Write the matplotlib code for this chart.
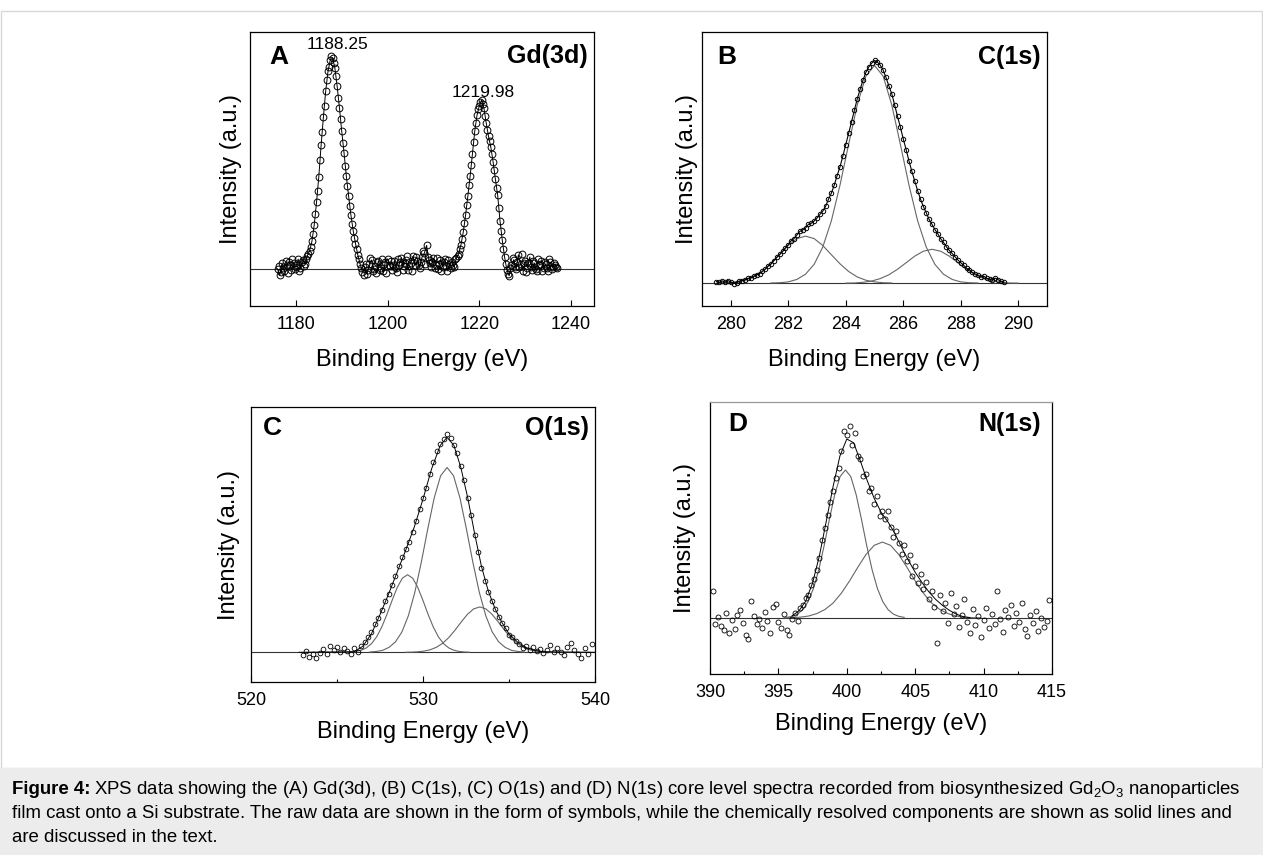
import numpy as np
import matplotlib
matplotlib.use("Agg")
import matplotlib.pyplot as plt
from matplotlib.patches import Rectangle
from matplotlib.ticker import MultipleLocator

plt.rcParams['font.family'] = ['Liberation Sans', 'DejaVu Sans']
plt.rcParams['mathtext.fontset'] = 'custom'
plt.rcParams['mathtext.rm'] = 'Liberation Sans'
plt.rcParams['mathtext.bf'] = 'Liberation Sans:bold'
plt.rcParams['mathtext.it'] = 'Liberation Sans:italic'

# intensities are in arbitrary units (0-100 = bottom-top of each panel)

# ---- panel A : Gd(3d), two overlapping scans ----
a_x = [1176.0, 1176.5, 1177.0, 1177.5, 1178.0, 1178.5, 1179.0, 1179.5, 1180.0, 1180.5,
       1181.0, 1181.5, 1182.0, 1182.5, 1183.0, 1183.5, 1184.0, 1184.5, 1185.0, 1185.5,
       1186.0, 1186.5, 1187.0, 1187.5, 1188.0, 1188.5, 1189.0, 1189.5, 1190.0, 1190.5,
       1191.0, 1191.5, 1192.0, 1192.5, 1193.0, 1193.5, 1194.0, 1194.5, 1195.0, 1195.5,
       1196.0, 1196.5, 1197.0, 1197.5, 1198.0, 1198.5, 1199.0, 1199.5, 1200.0, 1200.5,
       1201.0, 1201.5, 1202.0, 1202.5, 1203.0, 1203.5, 1204.0, 1204.5, 1205.0, 1205.5,
       1206.0, 1206.5, 1207.0, 1207.5, 1208.0, 1208.5, 1209.0, 1209.5, 1210.0, 1210.5,
       1211.0, 1211.5, 1212.0, 1212.5, 1213.0, 1213.5, 1214.0, 1214.5, 1215.0, 1215.5,
       1216.0, 1216.5, 1217.0, 1217.5, 1218.0, 1218.5, 1219.0, 1219.5, 1220.0, 1220.5,
       1221.0, 1221.5, 1222.0, 1222.5, 1223.0, 1223.5, 1224.0, 1224.5, 1225.0, 1225.5,
       1226.0, 1226.5, 1227.0, 1227.5, 1228.0, 1228.5, 1229.0, 1229.5, 1230.0, 1230.5,
       1231.0, 1231.5, 1232.0, 1232.5, 1233.0, 1233.5, 1234.0, 1234.5, 1235.0, 1235.5,
       1236.0, 1236.5, 1237.0]
a_y = [13.5, 11.2, 15.6, 12.8, 14.9, 16.2, 13.1, 15.8, 14.2, 17.1,
       13.8, 16.9, 15.3, 18.4, 20.2, 23.6, 29.5, 37.8, 47.2, 58.6,
       68.9, 78.4, 85.6, 89.8, 90.5, 86.9, 80.2, 72.4, 63.7, 55.9,
       47.4, 40.1, 33.2, 27.5, 22.8, 18.6, 15.4, 12.3, 14.1, 11.6,
       15.2, 16.8, 13.4, 12.1, 16.5, 14.0, 12.6, 15.9, 17.2, 14.5,
       13.0, 16.3, 12.4, 15.1, 17.6, 14.7, 16.9, 13.3, 15.8, 18.1,
       14.9, 16.4, 13.9, 17.8, 19.2, 22.1, 16.7, 14.2, 17.4, 15.0,
       13.6, 16.8, 14.4, 17.0, 12.8, 15.5, 16.2, 14.1, 17.5, 19.1,
       22.4, 27.0, 33.1, 40.2, 47.5, 55.6, 63.8, 69.7, 73.1, 75.3,
       72.2, 66.8, 61.9, 58.0, 52.6, 46.3, 40.4, 31.2, 24.1, 17.9,
       13.2, 11.0, 14.8, 16.9, 13.5, 18.6, 15.2, 12.9, 16.4, 14.0,
       17.9, 13.1, 15.7, 12.6, 14.9, 16.3, 13.7, 15.4, 12.8, 16.0,
       14.3, 15.1, 13.9]
a_x2 = [1176.25, 1176.75, 1177.25, 1177.75, 1178.25, 1178.75, 1179.25, 1179.75, 1180.25, 1180.75,
        1181.25, 1181.75, 1182.25, 1182.75, 1183.25, 1183.75, 1184.25, 1184.75, 1185.25, 1185.75,
        1186.25, 1186.75, 1187.25, 1187.75, 1188.25, 1188.75, 1189.25, 1189.75, 1190.25, 1190.75,
        1191.25, 1191.75, 1192.25, 1192.75, 1193.25, 1193.75, 1194.25, 1194.75, 1195.25, 1195.75,
        1196.25, 1196.75, 1197.25, 1197.75, 1198.25, 1198.75, 1199.25, 1199.75, 1200.25, 1200.75,
        1201.25, 1201.75, 1202.25, 1202.75, 1203.25, 1203.75, 1204.25, 1204.75, 1205.25, 1205.75,
        1206.25, 1206.75, 1207.25, 1207.75, 1208.25, 1208.75, 1209.25, 1209.75, 1210.25, 1210.75,
        1211.25, 1211.75, 1212.25, 1212.75, 1213.25, 1213.75, 1214.25, 1214.75, 1215.25, 1215.75,
        1216.25, 1216.75, 1217.25, 1217.75, 1218.25, 1218.75, 1219.25, 1219.75, 1220.25, 1220.75,
        1221.25, 1221.75, 1222.25, 1222.75, 1223.25, 1223.75, 1224.25, 1224.75, 1225.25, 1225.75,
        1226.25, 1226.75, 1227.25, 1227.75, 1228.25, 1228.75, 1229.25, 1229.75, 1230.25, 1230.75,
        1231.25, 1231.75, 1232.25, 1232.75, 1233.25, 1233.75, 1234.25, 1234.75, 1235.25, 1235.75,
        1236.25, 1236.75]
a_y2 = [14.6, 12.4, 13.9, 16.5, 12.2, 15.1, 17.3, 13.6, 15.0, 12.9,
        16.0, 14.5, 17.2, 19.0, 21.5, 26.3, 33.4, 42.0, 53.2, 63.5,
        73.1, 82.5, 87.4, 91.2, 88.7, 83.9, 76.0, 68.1, 59.6, 51.2,
        43.8, 36.5, 30.1, 24.9, 20.7, 17.0, 13.8, 11.4, 15.3, 13.0,
        17.4, 12.7, 14.6, 16.1, 13.2, 17.0, 15.4, 12.0, 14.8, 16.6,
        15.1, 13.9, 17.1, 16.0, 13.1, 15.7, 18.3, 14.6, 12.9, 16.7,
        17.9, 15.1, 16.2, 19.9, 15.3, 18.0, 15.7, 16.1, 13.8, 17.6,
        15.4, 12.9, 16.1, 14.6, 16.9, 13.8, 15.0, 17.3, 18.4, 20.8,
        24.5, 30.2, 36.8, 44.1, 51.3, 60.0, 66.9, 71.8, 74.6, 73.8,
        69.4, 64.2, 60.1, 55.4, 49.7, 43.2, 35.8, 27.4, 20.8, 15.2,
        11.8, 13.9, 17.5, 14.1, 16.2, 14.4, 19.0, 15.8, 12.5, 15.6,
        14.2, 16.6, 13.4, 17.3, 15.5, 12.7, 16.1, 14.0, 17.0, 13.5,
        15.7, 14.4]
a_base = 13.4
a_peaks = ['1188.25', '1219.98']

# ---- panel B : C(1s) ----
b_x = [279.5, 279.6, 279.7, 279.8, 279.9, 280.0, 280.1, 280.2, 280.3, 280.4,
       280.5, 280.6, 280.7, 280.8, 280.9, 281.0, 281.1, 281.2, 281.3, 281.4,
       281.5, 281.6, 281.7, 281.8, 281.9, 282.0, 282.1, 282.2, 282.3, 282.4,
       282.5, 282.6, 282.7, 282.8, 282.9, 283.0, 283.1, 283.2, 283.3, 283.4,
       283.5, 283.6, 283.7, 283.8, 283.9, 284.0, 284.1, 284.2, 284.3, 284.4,
       284.5, 284.6, 284.7, 284.8, 284.9, 285.0, 285.1, 285.2, 285.3, 285.4,
       285.5, 285.6, 285.7, 285.8, 285.9, 286.0, 286.1, 286.2, 286.3, 286.4,
       286.5, 286.6, 286.7, 286.8, 286.9, 287.0, 287.1, 287.2, 287.3, 287.4,
       287.5, 287.6, 287.7, 287.8, 287.9, 288.0, 288.1, 288.2, 288.3, 288.4,
       288.5, 288.6, 288.7, 288.8, 288.9, 289.0, 289.1, 289.2, 289.3, 289.4,
       289.5]
b_y = [8.9, 8.6, 9.2, 8.7, 9.3, 8.8, 8.2, 8.5, 9.1, 9.3,
       9.6, 10.1, 10.3, 10.9, 11.4, 11.8, 12.7, 13.4, 14.6, 15.3,
       16.6, 17.8, 18.8, 19.9, 21.2, 22.4, 23.8, 24.6, 25.9, 27.2,
       27.8, 28.4, 29.8, 30.2, 31.0, 32.1, 33.4, 34.6, 36.4, 39.0,
       41.2, 44.1, 47.6, 50.8, 54.7, 58.9, 63.0, 67.2, 71.4, 75.6,
       79.1, 82.4, 85.3, 87.2, 88.6, 89.6, 89.0, 87.9, 86.1, 83.4,
       80.3, 77.5, 73.4, 69.2, 65.3, 61.0, 57.1, 52.9, 49.1, 45.6,
       42.1, 39.0, 36.3, 34.0, 31.6, 29.8, 27.9, 26.4, 24.6, 23.2,
       21.6, 20.3, 19.2, 18.0, 16.8, 15.8, 14.9, 13.8, 13.2, 12.3,
       11.7, 11.3, 10.6, 10.9, 10.1, 9.8, 9.5, 10.2, 9.6, 9.0,
       8.7]
b_base = 8.3
# resolved components
b_c1_x = [279.6, 279.9, 280.2, 280.5, 280.8, 281.1, 281.4, 281.7, 282.0, 282.3, 282.6,
          282.9, 283.2, 283.5, 283.8, 284.1, 284.4, 284.7, 285.0, 285.3, 285.6]
b_c1_y = [8.4, 8.5, 8.8, 9.4, 10.6, 12.6, 15.4, 18.7, 22.1, 24.6, 25.5,
          24.6, 22.1, 18.7, 15.4, 12.6, 10.6, 9.4, 8.8, 8.5, 8.4]
b_c2_x = [281.4, 281.7, 282.0, 282.3, 282.6, 282.9, 283.2, 283.5, 283.8, 284.1, 284.4, 284.7,
          285.0, 285.3, 285.6, 285.9, 286.2, 286.5, 286.8, 287.1, 287.4, 287.7, 288.0, 288.3, 288.6]
b_c2_y = [8.4, 8.5, 8.8, 9.7, 11.6, 15.2, 21.5, 31.1, 44.1, 59.0, 73.4, 83.9,
          87.8, 83.9, 73.4, 59.0, 44.1, 31.1, 21.5, 15.2, 11.6, 9.7, 8.8, 8.5, 8.4]
b_c3_x = [284.0, 284.3, 284.6, 284.9, 285.2, 285.5, 285.8, 286.1, 286.4, 286.7, 287.0,
          287.3, 287.6, 287.9, 288.2, 288.5, 288.8, 289.1, 289.4, 289.7, 290.0]
b_c3_y = [8.35, 8.4, 8.65, 9.1, 10.0, 11.4, 13.4, 15.8, 18.2, 20.0, 20.7,
          20.0, 18.2, 15.8, 13.4, 11.4, 10.0, 9.1, 8.65, 8.4, 8.35]

# ---- panel C : O(1s) ----
c_x = [523.0, 523.2, 523.4, 523.6, 523.8, 524.0, 524.2, 524.4, 524.6, 524.8,
       525.0, 525.2, 525.4, 525.6, 525.8, 526.0, 526.2, 526.4, 526.6, 526.8,
       527.0, 527.2, 527.4, 527.6, 527.8, 528.0, 528.2, 528.4, 528.6, 528.8,
       529.0, 529.2, 529.4, 529.6, 529.8, 530.0, 530.2, 530.4, 530.6, 530.8,
       531.0, 531.2, 531.4, 531.6, 531.8, 532.0, 532.2, 532.4, 532.6, 532.8,
       533.0, 533.2, 533.4, 533.6, 533.8, 534.0, 534.2, 534.4, 534.6, 534.8,
       535.0, 535.2, 535.4, 535.6, 535.8, 536.0, 536.2, 536.4, 536.6, 536.8,
       537.0, 537.2, 537.4, 537.6, 537.8, 538.0, 538.2, 538.4, 538.6, 538.8,
       539.0, 539.2, 539.4, 539.6, 539.8]
c_y = [9.8, 11.4, 9.0, 10.3, 8.9, 10.6, 11.9, 10.2, 13.2, 11.8,
       12.6, 10.9, 12.2, 11.3, 10.1, 12.4, 11.0, 13.0, 14.6, 16.4,
       18.2, 21.0, 23.4, 26.1, 29.4, 32.0, 35.2, 38.6, 42.1, 45.3,
       48.2, 51.0, 54.6, 58.7, 62.8, 66.9, 70.6, 75.8, 79.9, 84.0,
       86.5, 88.3, 90.2, 88.9, 86.2, 83.1, 78.4, 73.3, 66.8, 60.9,
       53.5, 47.4, 41.6, 36.8, 32.9, 29.6, 26.6, 23.6, 21.4, 19.5,
       17.2, 16.2, 14.8, 13.9, 12.4, 13.1, 11.6, 12.9, 11.2, 12.1,
       10.4, 11.8, 13.4, 10.9, 12.2, 11.0, 9.9, 12.6, 14.1, 11.5,
       10.3, 8.9, 12.4, 10.2, 14.0]
c_base = 10.8
c_fit_x = [522.8, 526.0, 526.5, 527.0, 527.5, 528.0, 528.5, 529.0, 529.5, 530.0, 530.5, 531.0,
           531.4, 531.8, 532.2, 532.6, 533.0, 533.4, 533.8, 534.2, 534.6, 535.0, 535.5, 536.0,
           536.5, 537.0, 540.0]
c_fit_y = [10.8, 11.0, 13.0, 17.5, 24.5, 32.0, 40.0, 48.0, 56.5, 66.5, 77.5, 86.0,
           89.0, 86.0, 78.0, 67.0, 54.0, 42.0, 33.0, 26.5, 21.5, 17.5, 14.5, 12.5,
           11.5, 11.0, 10.8]
c_c1_x = [525.5, 525.8, 526.1, 526.4, 526.7, 527.0, 527.3, 527.6, 527.9, 528.2, 528.5, 528.8,
          529.1, 529.4, 529.7, 530.0, 530.3, 530.6, 530.9, 531.2, 531.5, 531.8, 532.1, 532.4, 532.7]
c_c1_y = [10.84, 10.92, 11.11, 11.54, 12.38, 13.9, 16.38, 19.97, 24.53, 29.61, 34.35, 37.76,
          39.0, 37.76, 34.35, 29.61, 24.53, 19.97, 16.38, 13.9, 12.38, 11.54, 11.11, 10.92, 10.84]
c_c2_x = [526.9, 527.275, 527.65, 528.025, 528.4, 528.775, 529.15, 529.525, 529.9, 530.275,
          530.65, 531.025, 531.4, 531.775, 532.15, 532.525, 532.9, 533.275, 533.65, 534.025,
          534.4, 534.775, 535.15, 535.525, 535.9]
c_c2_y = [10.9, 11.1, 11.5, 12.6, 14.6, 18.2, 24.1, 32.6, 43.5, 55.6, 66.9, 75.0,
          78.0, 75.0, 66.9, 55.6, 43.5, 32.6, 24.1, 18.2, 14.6, 12.6, 11.5, 11.1, 10.9]
c_c3_x = [528.98, 529.34, 529.70, 530.06, 530.42, 530.78, 531.14, 531.50, 531.86, 532.22,
          532.58, 532.94, 533.30, 533.66, 534.02, 534.38, 534.74, 535.10, 535.46, 535.82,
          536.18, 536.54, 536.90, 537.26, 537.62]
c_c3_y = [10.82, 10.87, 10.98, 11.23, 11.73, 12.62, 14.07, 16.16, 18.84, 21.81, 24.58, 26.57,
          27.3, 26.57, 24.58, 21.81, 18.84, 16.16, 14.07, 12.62, 11.73, 11.23, 10.98, 10.87, 10.82]

# ---- panel D : N(1s) ----
d_x = [390.2, 390.4, 390.6, 390.8, 391.0, 391.2, 391.4, 391.6, 391.8, 392.0,
       392.2, 392.4, 392.6, 392.8, 393.0, 393.2, 393.4, 393.6, 393.8, 394.0,
       394.2, 394.4, 394.6, 394.8, 395.0, 395.2, 395.4, 395.6, 395.8, 396.0,
       396.2, 396.4, 396.6, 396.8, 397.0, 397.2, 397.4, 397.6, 397.8, 398.0,
       398.2, 398.4, 398.6, 398.8, 399.0, 399.2, 399.4, 399.6, 399.8, 400.0,
       400.2, 400.4, 400.6, 400.8, 401.0, 401.2, 401.4, 401.6, 401.8, 402.0,
       402.2, 402.4, 402.6, 402.8, 403.0, 403.2, 403.4, 403.6, 403.8, 404.0,
       404.2, 404.4, 404.6, 404.8, 405.0, 405.2, 405.4, 405.6, 405.8, 406.0,
       406.2, 406.4, 406.6, 406.8, 407.0, 407.2, 407.4, 407.6, 407.8, 408.0,
       408.2, 408.4, 408.6, 408.8, 409.0, 409.2, 409.4, 409.6, 409.8, 410.0,
       410.2, 410.4, 410.6, 410.8, 411.0, 411.2, 411.4, 411.6, 411.8, 412.0,
       412.2, 412.4, 412.6, 412.8, 413.0, 413.2, 413.4, 413.6, 413.8, 414.0,
       414.2, 414.4, 414.6, 414.8]
d_y = [30.5, 18.2, 20.9, 17.5, 16.3, 22.4, 15.2, 19.8, 16.6, 21.7,
       23.5, 18.9, 14.3, 13.0, 27.0, 21.2, 18.5, 20.1, 16.8, 22.9,
       19.4, 15.1, 24.6, 25.8, 19.2, 17.0, 21.9, 16.2, 14.4, 20.3,
       22.6, 19.6, 24.2, 25.4, 27.9, 29.0, 32.6, 35.1, 38.4, 42.5,
       49.2, 53.6, 58.4, 63.1, 67.2, 71.9, 75.8, 82.1, 89.4, 87.9,
       91.0, 84.2, 88.7, 80.1, 79.0, 72.8, 73.7, 67.4, 68.5, 62.4,
       65.3, 58.2, 60.1, 57.0, 59.8, 53.9, 50.2, 52.7, 48.1, 44.2,
       47.5, 41.5, 43.8, 36.1, 39.6, 33.5, 36.8, 31.2, 34.0, 27.6,
       30.4, 24.8, 11.5, 28.9, 23.1, 26.2, 18.9, 29.7, 22.0, 25.0,
       17.3, 21.6, 27.4, 19.1, 15.2, 23.8, 18.0, 21.3, 13.6, 19.7,
       24.4, 16.9, 22.1, 18.4, 30.5, 20.2, 15.6, 23.7, 21.0, 25.3,
       17.8, 22.5, 19.0, 26.1, 16.4, 14.1, 21.8, 18.6, 23.2, 15.8,
       20.6, 17.2, 19.4, 27.3]
d_base = 20.6
d_fit_x = [396.0, 396.5, 397.0, 397.5, 398.0, 398.5, 399.0, 399.5, 400.0, 400.5, 401.0, 401.5,
           402.0, 402.5, 403.0, 403.5, 404.0, 404.5, 405.0, 405.5, 406.0, 406.5, 407.0, 407.5,
           408.0, 408.5, 409.0]
d_fit_y = [21.4, 23.2, 26.8, 33.5, 43.5, 56.2, 69.0, 80.2, 86.4, 85.0, 78.2, 71.0,
           64.6, 59.5, 56.0, 51.8, 46.6, 41.8, 37.4, 33.6, 30.2, 27.4, 25.2, 23.4,
           22.0, 21.1, 20.7]
d_c1_x = [395.61, 396.0, 396.39, 396.78, 397.17, 397.56, 397.95, 398.34, 398.73, 399.12, 399.51,
          399.9, 400.29, 400.68, 401.07, 401.46, 401.85, 402.24, 402.63, 403.02, 403.41, 403.8, 404.19]
d_c1_y = [20.83, 21.2, 22.0, 23.65, 26.6, 31.4, 38.3, 47.1, 56.9, 66.0, 72.6,
          75.0, 72.6, 66.0, 56.9, 47.1, 38.3, 31.4, 26.6, 23.65, 22.0, 21.2, 20.83]
d_c2_x = [395.4, 396.0, 396.6, 397.2, 397.8, 398.4, 399.0, 399.6, 400.2, 400.8, 401.4, 402.0,
          402.6, 403.2, 403.8, 404.4, 405.0, 405.6, 406.2, 406.8, 407.4, 408.0, 408.6, 409.2, 409.8]
d_c2_y = [20.64, 20.72, 20.9, 21.3, 22.2, 23.7, 26.1, 29.7, 34.2, 39.2, 43.9, 47.3,
          48.5, 47.3, 43.9, 39.2, 34.2, 29.7, 26.1, 23.7, 22.2, 21.3, 20.9, 20.72, 20.64]

cap_head = "Figure 4:"
caption = ["XPS data showing the (A) Gd(3d), (B) C(1s), (C) O(1s) and (D) N(1s) core level spectra recorded from biosynthesized Gd$_2$O$_3$ nanoparticles",
           "film cast onto a Si substrate. The raw data are shown in the form of symbols, while the chemically resolved components are shown as solid lines and",
           "are discussed in the text."]

W, H = 1263, 855
fig = plt.figure(figsize=(W / 100, H / 100), dpi=100)

# light frame round the figure and grey caption box
fig.patches.append(Rectangle((0.5 / W, (H - 768) / H), (W - 2) / W, (768 - 11) / H,
                             transform=fig.transFigure, fill=False, edgecolor='#d8d8d8', lw=1))
fig.patches.append(Rectangle((0, 0), 1, (H - 768) / H, transform=fig.transFigure,
                             facecolor='#ececec', edgecolor='none'))


def make_ax(left, top, right, bottom, xpad):
    ax = fig.add_axes([left / W, (H - bottom) / H, (right - left) / W, (bottom - top) / H])
    ax.set_ylim(0, 100)
    ax.set_yticks([])
    ax.tick_params(axis='x', direction='in', length=4, width=0.8, labelsize=13, pad=7)
    ax.tick_params(axis='x', which='minor', direction='in', length=2.5, width=0.8)
    for s in ax.spines.values():
        s.set_linewidth(0.9)
    ax.set_xlabel('Binding Energy (eV)', fontsize=17, labelpad=xpad)
    ax.set_ylabel('Intensity (a.u.)', fontsize=17)
    return ax


def labels(ax, letter, element, lx, ly, ex, ey):
    ax.text(lx, ly, letter, transform=ax.transAxes, fontsize=19, fontweight='bold',
            ha='center', va='center')
    ax.text(ex, ey, element, transform=ax.transAxes, fontsize=18, fontweight='bold',
            ha='right', va='center')


line_kw = dict(color='#666666', lw=0.8)
mk_kw = dict(linestyle='none', marker='o', mfc='none', mec='k')

# A
ax = make_ax(250, 32, 594, 306, 12)
ax.set_xlim(1170, 1245)
ax.set_xticks([1180, 1200, 1220, 1240])
ax.axhline(a_base, color='#333333', lw=0.8)
ax.plot(a_x, a_y, color='k', lw=0.7)
ax.plot(a_x, a_y, ms=4.9, mew=0.7, **mk_kw)
ax.plot(a_x2, a_y2, ms=4.9, mew=0.7, **mk_kw)
labels(ax, 'A', 'Gd(3d)', 0.084, 0.907, 0.982, 0.911)
ax.text(0.253, 0.955, a_peaks[0], transform=ax.transAxes, fontsize=12.5, ha='center', va='center')
ax.text(0.678, 0.780, a_peaks[1], transform=ax.transAxes, fontsize=12.5, ha='center', va='center')
ax.yaxis.labelpad = 6

# B
ax = make_ax(702, 32, 1047, 306, 12)
ax.set_xlim(279, 291)
ax.set_xticks([280, 282, 284, 286, 288, 290])
ax.axhline(b_base, color='#333333', lw=0.8)
ax.plot(b_c1_x, b_c1_y, **line_kw)
ax.plot(b_c2_x, b_c2_y, **line_kw)
ax.plot(b_c3_x, b_c3_y, **line_kw)
ax.plot(b_x, b_y, color='k', lw=0.8)
ax.plot(b_x, b_y, ms=3.2, mew=0.7, **mk_kw)
labels(ax, 'B', 'C(1s)', 0.0725, 0.907, 0.982, 0.907)
ax.yaxis.labelpad = 3

# C
ax = make_ax(251, 407, 595, 682, 9)
ax.set_xlim(520, 540)
ax.set_xticks([520, 530, 540])
ax.xaxis.set_minor_locator(MultipleLocator(5))
ax.axhline(c_base, color='#333333', lw=0.8)
ax.plot(c_c1_x, c_c1_y, **line_kw)
ax.plot(c_c2_x, c_c2_y, **line_kw)
ax.plot(c_c3_x, c_c3_y, **line_kw)
ax.plot(c_fit_x, c_fit_y, color='k', lw=0.7)
ax.plot(c_x, c_y, ms=3.4, mew=0.6, **mk_kw)
labels(ax, 'C', 'O(1s)', 0.062, 0.924, 0.982, 0.924)
ax.yaxis.labelpad = 8

# D
ax = make_ax(710, 402, 1052, 674, 9)
ax.set_xlim(390, 415)
ax.set_xticks([390, 395, 400, 405, 410, 415])
ax.xaxis.set_minor_locator(MultipleLocator(2.5))
ax.spines['top'].set_color('#999999')
ax.axhline(d_base, color='#333333', lw=0.8)
ax.plot(d_c1_x, d_c1_y, **line_kw)
ax.plot(d_c2_x, d_c2_y, **line_kw)
ax.plot(d_fit_x, d_fit_y, color='k', lw=0.7)
ax.plot(d_x, d_y, ms=3.6, mew=0.6, **mk_kw)
labels(ax, 'D', 'N(1s)', 0.080, 0.919, 0.967, 0.919)
ax.yaxis.labelpad = 10

# caption, bold head then plain text
renderer = fig.canvas.get_renderer()
cap_size = 13.4
y0 = 1 - 790 / H
head = fig.text(12 / W, y0, cap_head, fontsize=cap_size, fontweight='bold', ha='left', va='center')
bb = head.get_window_extent(renderer=renderer)
fig.text((bb.x1 + 4) / W, y0, caption[0], fontsize=cap_size, ha='left', va='center')
for i, line in enumerate(caption[1:], start=1):
    fig.text(12 / W, 1 - (790 + 23.5 * i) / H, line, fontsize=cap_size, ha='left', va='center')

fig.savefig('out.png', dpi=100)
